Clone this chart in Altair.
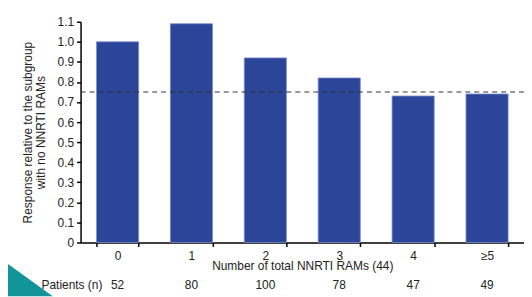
import altair as alt
import pandas as pd

categories = ["0", "1", "2", "3", "4", "≥5"]
response = [1.00, 1.09, 0.92, 0.82, 0.73, 0.74]
patients = [52, 80, 100, 78, 47, 49]
reference_level = [0.75]
y_ticks = [0, 0.1, 0.2, 0.3, 0.4, 0.5, 0.6, 0.7, 0.8, 0.9, 1.0, 1.1]

df = pd.DataFrame({"cat": categories, "resp": response, "n": [str(p) for p in patients]})
ref_df = pd.DataFrame({"ref": reference_level})

FONT = "Liberation Sans"
FS = 12
BAR = "#2b4599"
TEAL = "#13939a"

xscale = alt.Scale(domain=categories, paddingInner=0.43, paddingOuter=0.215)
yscale = alt.Scale(domain=[0, 1.1], nice=False)

xaxis = alt.Axis(title="Number of total NNRTI RAMs (44)", labelAngle=0,
                 tickBand="extent", tickSize=4, tickColor="#000", tickWidth=1.5,
                 domainColor="#000", domainWidth=1.5, labelPadding=4,
                 titlePadding=-1, labelFontSize=FS, titleFontSize=FS,
                 titleFontWeight="normal", labelColor="#222", titleColor="#222",
                 labelFont=FONT, titleFont=FONT, labelOverlap=False)
yaxis = alt.Axis(title=["Response relative to the subgroup", "with no NNRTI RAMs"],
                 values=y_ticks,
                 labelExpr="datum.value == 0 ? '0' : format(datum.value, '.1f')",
                 labelOverlap=False,
                 tickSize=4, tickColor="#000", tickWidth=1.5, domainColor="#000",
                 domainWidth=1.5, grid=False, labelPadding=3, titlePadding=10,
                 labelFontSize=FS, titleFontSize=FS, titleFontWeight="normal",
                 labelColor="#222", titleColor="#222", labelFont=FONT,
                 titleFont=FONT, titleLineHeight=13)

X = alt.X("cat:N", scale=xscale, sort=categories, axis=xaxis)

bars = alt.Chart(df).mark_bar(color=BAR, stroke="#7a8fcf", strokeWidth=0.8).encode(
    x=X, y=alt.Y("resp:Q", scale=yscale, axis=yaxis),
)

ref = alt.Chart(ref_df).mark_rule(
    color="#333", strokeDash=[5, 4], strokeWidth=1
).encode(y=alt.Y("ref:Q", scale=yscale, axis=yaxis),
         x=alt.value(0), x2=alt.value(446))

ntext = alt.Chart(df).mark_text(font=FONT, fontSize=FS, color="#222", baseline="middle").encode(
    x=X, y=alt.value(265), text="n:N"
)

plabel = alt.Chart(pd.DataFrame({"t": ["Patients (n)"]})).mark_text(
    font=FONT, fontSize=FS, color="#222", baseline="middle", align="right"
).encode(x=alt.value(22), y=alt.value(265), text="t:N")

tri = alt.Chart(pd.DataFrame({"t": [0]})).mark_point(
    shape="M -1 -0.717 L -1 0.717 L 1 0.717 Z", filled=True, color=TEAL, opacity=1,
    strokeWidth=0
).encode(x=alt.value(-54.5), y=alt.value(257), size=alt.value(2809))

chart = alt.layer(bars, ref, ntext, plabel, tri).properties(
    width=446, height=222,
    autosize=alt.AutoSizeParams(type="none"),
    padding={"left": 73, "top": 13, "right": 0, "bottom": 54},
).configure_view(stroke=None)

chart.save("out.html", embed_options={"renderer": "svg", "actions": False})
